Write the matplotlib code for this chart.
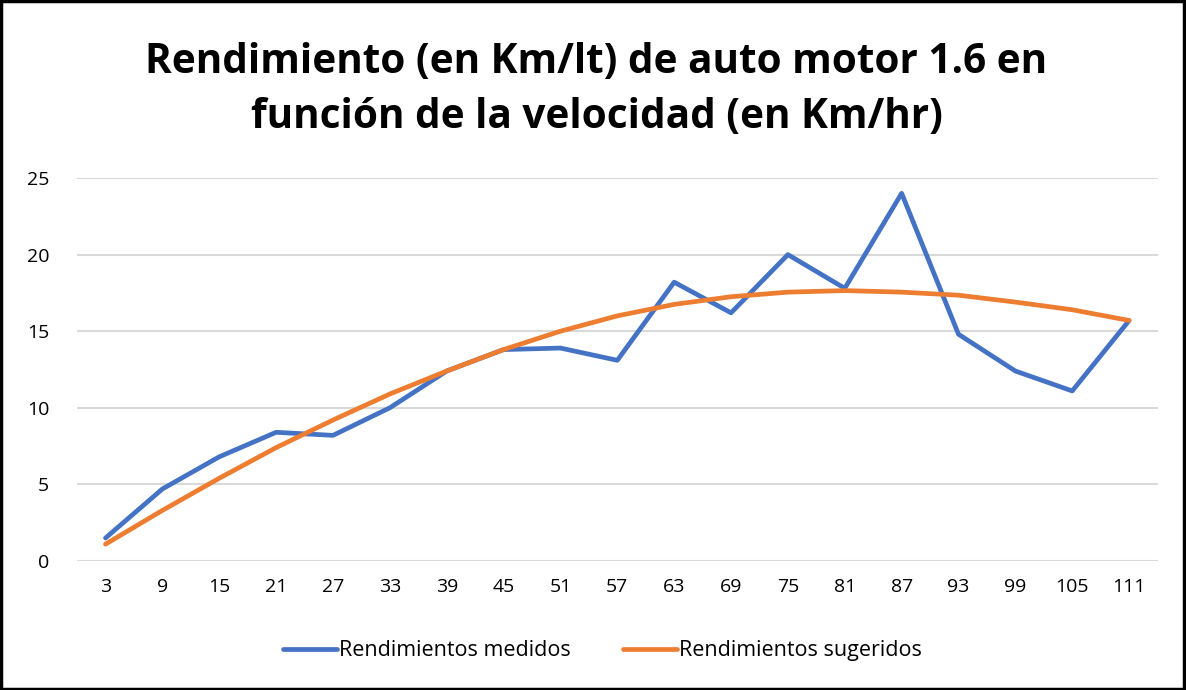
import matplotlib
matplotlib.use("Agg")
import matplotlib.pyplot as plt
from matplotlib.patches import Rectangle

# velocidades (Km/hr)
velocidades = [3, 9, 15, 21, 27, 33, 39, 45, 51, 57, 63, 69, 75, 81, 87, 93, 99, 105, 111]
# rendimiento medido (Km/lt)
medidos = [1.5, 4.7, 6.8, 8.4, 8.2, 10.0, 12.4, 13.8, 13.9, 13.1, 18.2, 16.2,
           20.0, 17.8, 24.0, 14.8, 12.4, 11.1, 15.7]
# rendimiento sugerido (Km/lt)
sugeridos = [1.1, 3.3, 5.4, 7.4, 9.2, 10.9, 12.4, 13.8, 15.0, 16.0, 16.75, 17.25,
             17.55, 17.65, 17.55, 17.35, 16.9, 16.4, 15.7]

plt.rcParams['font.family'] = ['Open Sans', 'DejaVu Sans']

fig = plt.figure(figsize=(11.86, 6.90), dpi=100)
ax = fig.add_axes([0.065, 0.187, 0.911, 0.555])

pos = list(range(len(velocidades)))
ax.plot(pos, medidos, color='#4472C4', lw=3.4, label='Rendimientos medidos',
        solid_joinstyle='round', solid_capstyle='round')
ax.plot(pos, sugeridos, color='#ED7D31', lw=3.4, label='Rendimientos sugeridos',
        solid_joinstyle='round', solid_capstyle='round')

ax.set_xlim(-0.5, len(velocidades) - 0.5)
ax.set_ylim(0, 25)
ax.set_yticks([0, 5, 10, 15, 20, 25])
ax.set_xticks(pos)
ax.set_xticklabels([str(v) for v in velocidades])
ax.tick_params(length=0, labelsize=14, pad=12)
ax.tick_params(axis='y', pad=20)
ax.grid(axis='y', color='#D9D9D9', lw=1.5)
ax.set_axisbelow(True)
for s in ax.spines.values():
    s.set_visible(False)

fig.text(0.503, 0.869, 'Rendimiento (en Km/lt) de auto motor 1.6 en\nfunción de la velocidad (en Km/hr)',
         ha='center', va='center', fontsize=29.2, fontweight='bold', linespacing=1.45)

fig.legend(loc='center', bbox_to_anchor=(0.508, 0.057), ncol=2, frameon=False,
           fontsize=15.5, handlelength=2.5, columnspacing=2.4, handletextpad=0.1)

fig.patches.append(Rectangle((0.001, 0.002), 0.997, 0.996, transform=fig.transFigure,
                             fill=False, edgecolor='black', lw=2.5))

fig.savefig('out.png', dpi=100)
